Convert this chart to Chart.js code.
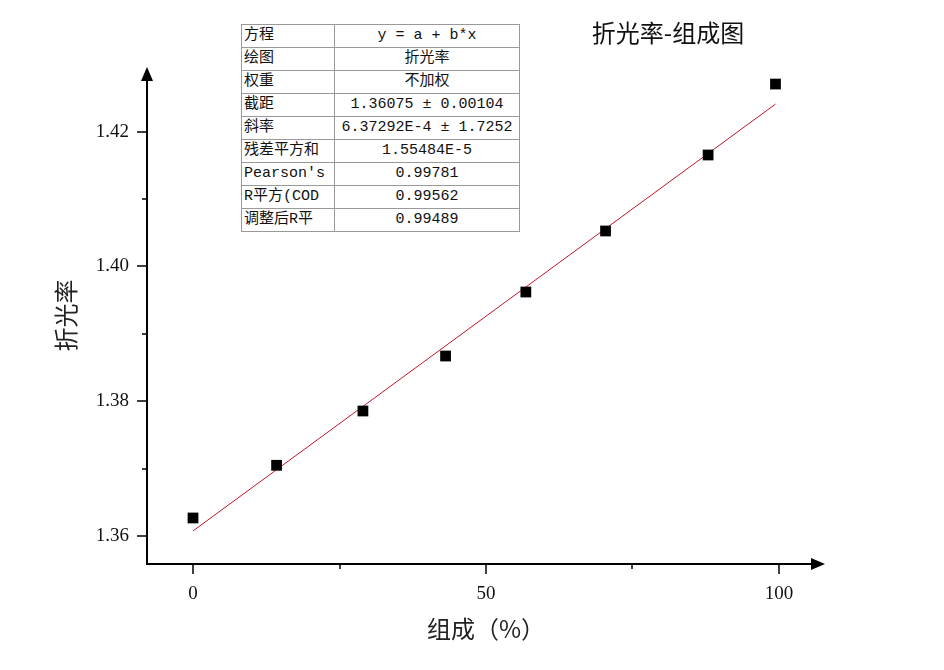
<!DOCTYPE html>
<html><head><meta charset="utf-8">
<script src="https://cdn.jsdelivr.net/npm/chart.js@4"></script>
<style>
html,body{margin:0;padding:0;background:#fff;}
#wrap{position:relative;width:944px;height:670px;}
#title{position:absolute;left:548px;top:14px;width:240px;text-align:center;font:24px "Noto Sans CJK SC";color:#111;}
#tbl{position:absolute;left:241px;top:24px;border-collapse:collapse;border:1px solid #000;font:15px "Liberation Mono","Noto Sans CJK SC";color:#111;background:#fff;}
#tbl td{border:1px solid #999;height:22px;padding:0 2px;line-height:22px;white-space:nowrap;}
#tbl td.k{width:88px;text-align:left;}
#tbl td.v{width:180px;text-align:center;}
canvas{position:absolute;left:0;top:0;}
</style></head>
<body><div id="wrap"><canvas id="c" width="944" height="670"></canvas>
<div id="title">折光率-组成图</div>
<table id="tbl"></table>
</div>
<script>
const compX = [0, 14.26, 29.0, 43.1, 56.8, 70.4, 87.9, 99.4];
const refIdx = [1.36267, 1.37049, 1.37855, 1.38671, 1.39621, 1.40527, 1.41655, 1.42708];
const fitX = [0, 99.4];
const fitY = [1.36075, 1.42410];
const xTicks = [0, 50, 100];
const xMinor = [25, 75];
const yTicks = [1.36, 1.38, 1.40, 1.42];
const yMinor = [1.37, 1.39, 1.41];
const tableKeys = ["方程","绘图","权重","截距","斜率","残差平方和","Pearson's","R平方(COD","调整后R平"];
const tableVals = ["y = a + b*x","折光率","不加权","1.36075 ± 0.00104","6.37292E-4 ± 1.7252","1.55484E-5","0.99781","0.99562","0.99489"];

const tbl = document.getElementById('tbl');
tableKeys.forEach((k,i)=>{
  const tr=document.createElement('tr');
  const a=document.createElement('td');a.className='k';a.textContent=k;
  const b=document.createElement('td');b.className='v';b.textContent=tableVals[i];
  tr.appendChild(a);tr.appendChild(b);tbl.appendChild(tr);
});

const axesPlugin = {
  id:'axes',
  afterDraw(chart){
    const ctx=chart.ctx, xs=chart.scales.x, ys=chart.scales.y, a=chart.chartArea;
    ctx.save();
    ctx.strokeStyle='#000';ctx.fillStyle='#000';
    ctx.lineWidth=2;
    ctx.beginPath();
    ctx.moveTo(a.left, a.bottom); ctx.lineTo(a.left, a.top+10);
    ctx.moveTo(a.left-1, a.bottom); ctx.lineTo(a.right-10, a.bottom);
    ctx.stroke();
    ctx.beginPath();
    ctx.moveTo(a.left, a.top); ctx.lineTo(a.left-6, a.top+14); ctx.lineTo(a.left+6, a.top+14); ctx.closePath(); ctx.fill();
    ctx.beginPath();
    ctx.moveTo(a.right, a.bottom); ctx.lineTo(a.right-14, a.bottom-6); ctx.lineTo(a.right-14, a.bottom+6); ctx.closePath(); ctx.fill();
    ctx.lineWidth=1.5;
    ctx.beginPath();
    xTicks.forEach(v=>{const p=Math.round(xs.getPixelForValue(v));ctx.moveTo(p,a.bottom);ctx.lineTo(p,a.bottom+10);});
    xMinor.forEach(v=>{const p=Math.round(xs.getPixelForValue(v));ctx.moveTo(p,a.bottom);ctx.lineTo(p,a.bottom+5);});
    yTicks.forEach(v=>{const p=Math.round(ys.getPixelForValue(v));ctx.moveTo(a.left,p);ctx.lineTo(a.left-10,p);});
    yMinor.forEach(v=>{const p=Math.round(ys.getPixelForValue(v));ctx.moveTo(a.left,p);ctx.lineTo(a.left-5,p);});
    ctx.stroke();
    ctx.restore();
  }
};

new Chart(document.getElementById('c'), {
  type:'scatter',
  data:{datasets:[
    {label:'fit', data:fitX.map((x,i)=>({x, y:fitY[i]})), showLine:true, borderColor:'#c0142a', borderWidth:1, pointRadius:0, order:2},
    {label:'折光率', data:compX.map((x,i)=>({x, y:refIdx[i]})), pointStyle:'rect', pointRadius:7.6, backgroundColor:'#000', borderColor:'#000', borderWidth:0, order:1}
  ]},
  options:{
    responsive:false, animation:false, events:[],
    layout:{padding:{left:0,right:119,top:67,bottom:0}},
    plugins:{legend:{display:false},tooltip:{enabled:false},title:{display:false}},
    scales:{
      x:{type:'linear', min:-7.85, max:107.85,
        grid:{display:false, drawTicks:false}, border:{display:false},
        afterBuildTicks(s){s.ticks=xTicks.map(v=>({value:v}));},
        afterFit(s){s.height=106;},
        ticks:{padding:19, color:'#111', font:{family:'Liberation Serif', size:19}, maxRotation:0, callback:v=>String(v)},
        title:{display:true, text:'组成（%）', color:'#222', font:{family:'Noto Sans CJK SC', size:24}, padding:{top:0,bottom:27}}
      },
      y:{type:'linear', min:1.35584, max:1.42961,
        grid:{display:false, drawTicks:false}, border:{display:false},
        afterBuildTicks(s){s.ticks=yTicks.map(v=>({value:v}));},
        afterFit(s){s.width=147;},
        ticks:{padding:18, color:'#111', font:{family:'Liberation Serif', size:19}, callback:v=>Number(v).toFixed(2)},
        title:{display:true, text:'折光率', color:'#222', font:{family:'Noto Sans CJK SC', size:24}, padding:{top:51,bottom:0}}
      }
    }
  },
  plugins:[axesPlugin]
});
</script></body></html>
